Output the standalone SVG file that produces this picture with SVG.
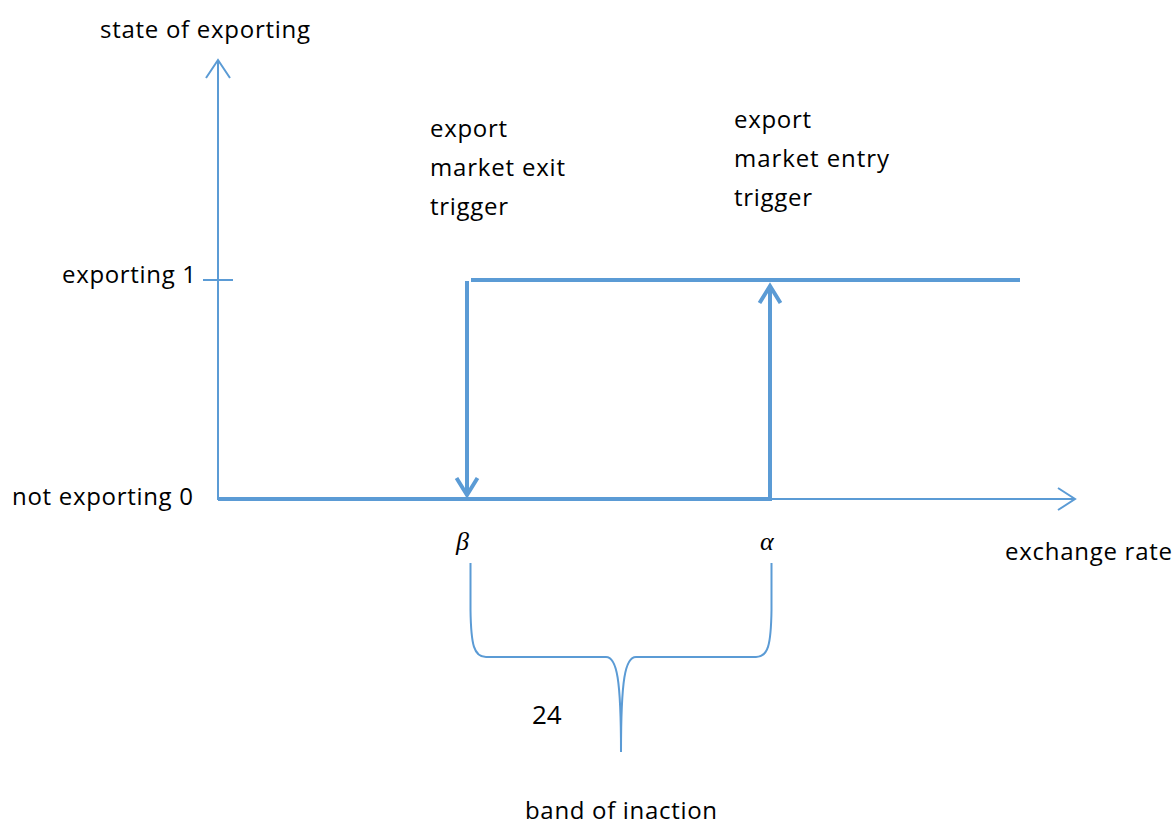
<svg xmlns="http://www.w3.org/2000/svg" width="1175" height="825" viewBox="0 0 1175 825">
<style>
.t{font-family:"Open Sans","Liberation Sans",sans-serif;font-size:24px;fill:#000}
.g{font-family:"Liberation Serif","DejaVu Serif",serif;font-style:italic;font-size:26px;fill:#000}
.thin{stroke:#5b9bd5;stroke-width:2;fill:none}
.thick{stroke:#5b9bd5;stroke-width:4;fill:none}
</style>
<rect width="1175" height="825" fill="#fff"/>
<g id="connectors">
<g id="y-axis">
<line class="thin" x1="218" y1="500" x2="218" y2="60"/>
<polyline class="thin" points="206,78 218,60 230,78"/>
<line class="thin" x1="203" y1="280" x2="233" y2="280"/>
</g>
<g id="x-axis">
<line class="thin" x1="218" y1="499" x2="1075" y2="499"/>
<polyline class="thin" points="1058,488 1075,499 1058,510"/>
</g>
<g id="step">
<line class="thick" x1="218" y1="499" x2="770" y2="499"/>
<line class="thick" x1="471" y1="280" x2="1020" y2="280"/>
<line class="thick" x1="467" y1="281" x2="467" y2="495"/>
<polyline class="thick" points="456.5,478 467,495 477.5,478"/>
<line class="thick" x1="770" y1="501" x2="770" y2="287"/>
<polyline class="thick" points="759.5,303 770,286 780.5,303"/>
</g>
<g id="brace">
<path class="thin" d="M470.5,563 L470.5,610 C471,645 474,657 486,657 L606,657 C617,657 621,680 621,752 C621,680 625,657 636,657 L756,657 C768,657 771,645 771.5,610 L771.5,563"/>
</g>
</g>
<g id="labels">
<text class="t" x="100" y="38" textLength="210">state of exporting</text>
<text class="t" x="430" y="137" textLength="77">export</text>
<text class="t" x="430" y="176" textLength="135">market exit</text>
<text class="t" x="430" y="215" textLength="78">trigger</text>
<text class="t" x="734" y="128" textLength="77">export</text>
<text class="t" x="734" y="167" textLength="155">market entry</text>
<text class="t" x="734" y="206" textLength="78">trigger</text>
<text class="t" x="62" y="283" textLength="134">exporting 1</text>
<text class="t" x="12" y="505" textLength="181">not exporting 0</text>
<text class="g" x="456" y="550">β</text>
<text class="g" x="760" y="550">α</text>
<text class="t" x="1005" y="560" textLength="167">exchange rate</text>
<text class="t" x="532" y="724" style="font-size:26px">24</text>
<text class="t" x="525" y="819" textLength="192">band of inaction</text>
</g>
</svg>
